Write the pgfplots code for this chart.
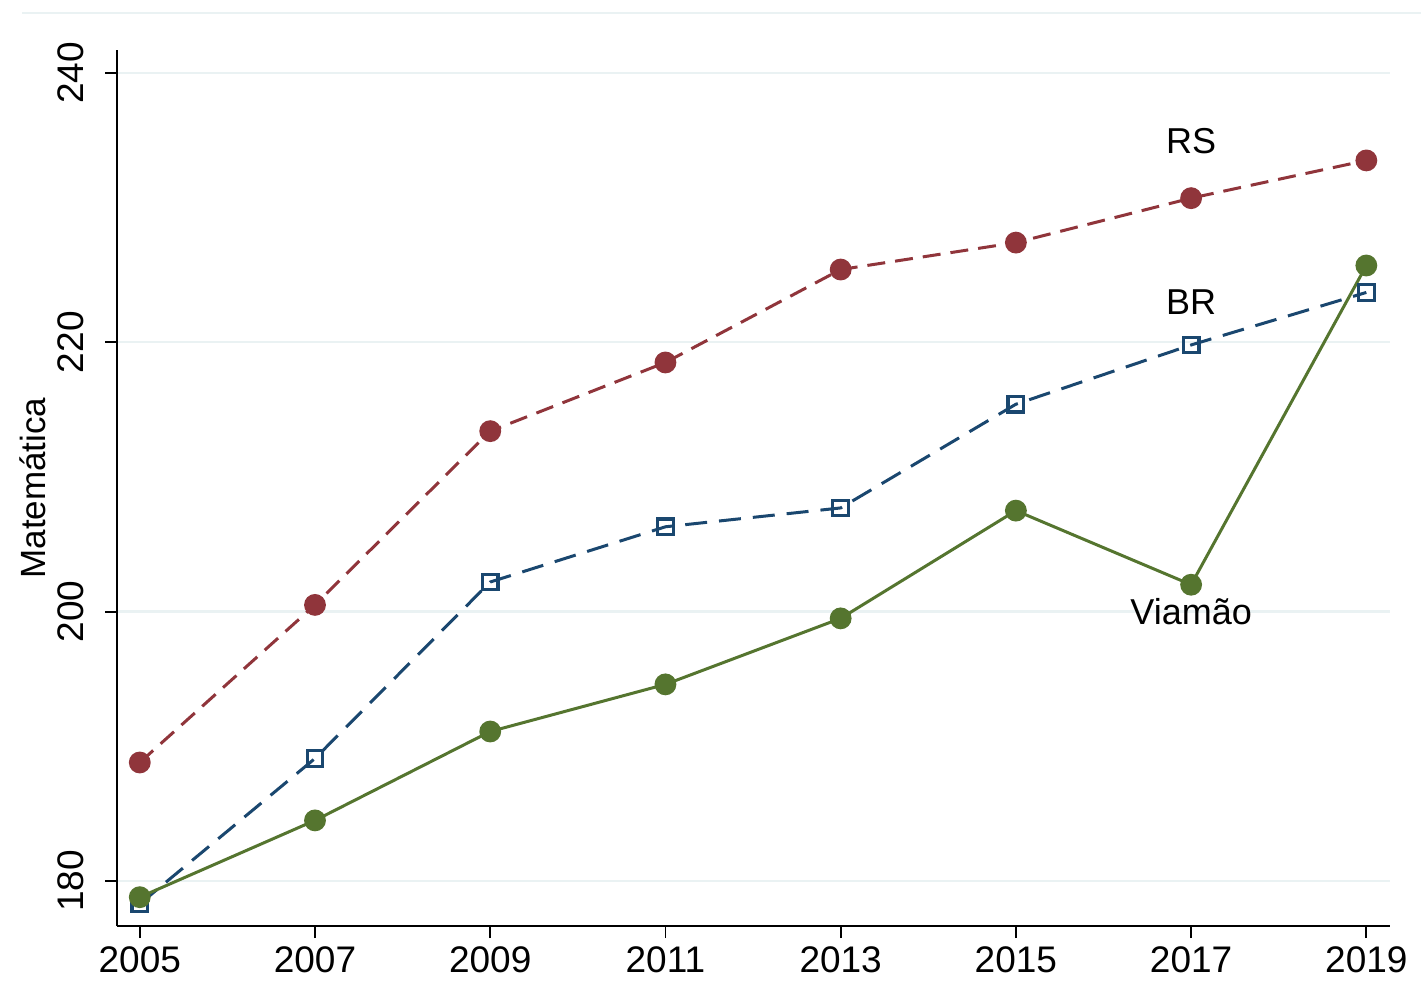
\documentclass[border=0pt]{standalone}
\usepackage{pgfplots}
\pgfplotsset{compat=1.18}
\usepackage{fontspec}
\setmainfont{Liberation Sans}
\definecolor{rs}{RGB}{144,53,59}
\definecolor{br}{RGB}{26,71,111}
\definecolor{vi}{RGB}{85,117,47}
\definecolor{gridc}{RGB}{234,242,243}
\begin{document}
\begin{tikzpicture}
\useasboundingbox (-58.5pt,-27.5pt) rectangle (652pt,463pt);
\draw[gridc, line width=1pt] (-47.5pt,456.5pt) -- (652pt,456.5pt);
\begin{axis}[
  at={(0,0)}, anchor=origin,
  scale only axis, width=636.5pt, height=438pt,
  xmin=2004.74, xmax=2019.27, ymin=176.66, ymax=241.7,
  axis x line*=bottom, axis y line*=left,
  axis line style={line width=0.9pt, black, -},
  xtick={2005,2007,...,2019},
  ytick={180,200,220,240},
  x tick label style={/pgf/number format/1000 sep={}},
  tick style={line width=0.9pt, black},
  tick align=outside, major tick length=6pt,
  ymajorgrids, major grid style={gridc, line width=1.2pt},
  /pgf/number format/assume math mode=true,
  ticklabel style={font=\fontsize{18.5}{20}\selectfont},
  y tick label style={rotate=90, anchor=south, yshift=7pt},
  x tick label style={yshift=-1pt},
  ylabel={Matemática},
  ylabel style={font=\fontsize{17.5}{19}\selectfont, at={(axis description cs:0,0.5)}, anchor=center, yshift=42pt},
  clip=false,
]
\addplot[color=rs, line width=1.5pt, dash pattern=on 9pt off 5pt, mark=*, mark size=4.7pt, mark options={solid, fill=rs, draw=rs}]
coordinates {(2005,188.8) (2007,200.5) (2009,213.4) (2011,218.5) (2013,225.4) (2015,227.4) (2017,230.7) (2019,233.5)};
\addplot[color=br, line width=1.5pt, dash pattern=on 11pt off 6pt, mark=square, mark size=3.9pt, mark options={solid, draw=br, fill=white, line width=1.6pt}]
coordinates {(2005,178.3) (2007,189.1) (2009,202.2) (2011,206.3) (2013,207.7) (2015,215.4) (2017,219.8) (2019,223.7)};
\addplot[color=vi, line width=1.5pt, mark=*, mark size=4.7pt, mark options={solid, fill=vi, draw=vi}]
coordinates {(2005,178.8) (2007,184.5) (2009,191.1) (2011,194.6) (2013,199.5) (2015,207.5) (2017,202.0) (2019,225.7)};
\node[font=\fontsize{18}{20}\selectfont] at (axis cs:2017,234.9) {RS};
\node[font=\fontsize{18}{20}\selectfont] at (axis cs:2017,223.0) {BR};
\node[font=\fontsize{18}{20}\selectfont] at (axis cs:2017,200.0) {Viamão};
\end{axis}
\end{tikzpicture}
\end{document}
